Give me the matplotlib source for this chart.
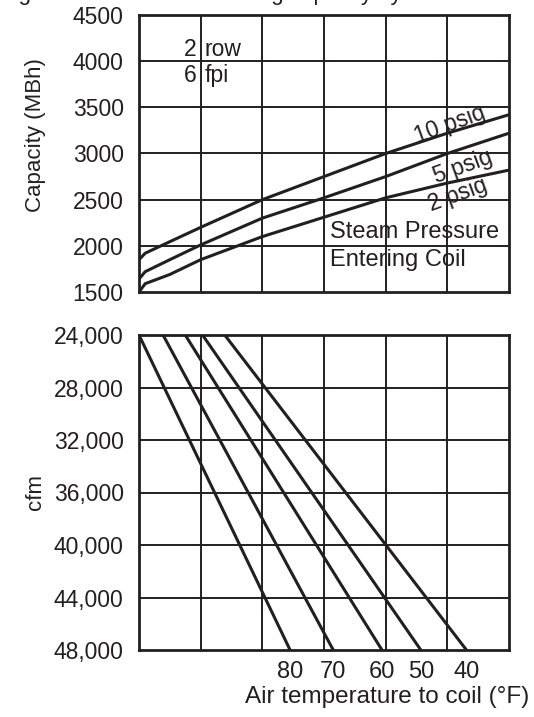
import matplotlib.pyplot as plt

plt.rcParams['font.family'] = ['Liberation Sans', 'DejaVu Sans']

INK = "#231f20"

# top chart: capacity (MBh) read at grid columns
grid_x = [0, 0.1, 0.5, 1, 2, 3, 4, 5, 6]
cap_10psig = [1850, 1920, 2045, 2200, 2500, 2750, 3000, 3220, 3420]
cap_5psig = [1640, 1720, 1850, 2010, 2300, 2520, 2750, 3000, 3220]
cap_2psig = [1500, 1590, 1690, 1850, 2100, 2310, 2520, 2680, 2820]
cap_ticks = [1500, 2000, 2500, 3000, 3500, 4000, 4500]

# bottom chart: air temperature lines, grid column at 24,000 and 48,000 cfm
cfm_ends = [24000, 48000]
temps = ["80", "70", "60", "50", "40"]
temp_top_x = [0.0, 0.39, 0.75, 1.03, 1.39]
temp_bot_x = [2.45, 3.15, 3.94, 4.57, 5.31]
cfm_ticks = [24000, 28000, 32000, 36000, 40000, 44000, 48000]
cfm_labels = ["24,000", "28,000", "32,000", "36,000", "40,000", "44,000", "48,000"]

fig = plt.figure(figsize=(5.34, 7.17), dpi=100)
ax1 = fig.add_axes([139 / 534, 1 - 292 / 717, 370 / 534, 277 / 717])
ax2 = fig.add_axes([139 / 534, 1 - 650 / 717, 370 / 534, 315 / 717])

# title line sits mostly above the page, only descenders show
fig.text(0.0, 1.0, "Figure 1.  Steam coil heating capacity by", fontsize=16,
         color=INK, va="baseline", ha="left")

for ax in (ax1, ax2):
    ax.set_xlim(0, 6)
    ax.set_xticks(range(7))
    for s in ax.spines.values():
        s.set_linewidth(2.0)
        s.set_color(INK)
    ax.tick_params(length=0, labelsize=16.5, colors=INK, pad=11)
    for gx in range(1, 6):
        ax.axvline(gx, color=INK, lw=1.4, zorder=1)

# top chart
ax1.set_ylim(1500, 4500)
ax1.set_yticks(cap_ticks)
ax1.set_yticklabels([str(v) for v in cap_ticks])
ax1.set_xticklabels([])
for v in cap_ticks[1:-1]:
    ax1.axhline(v, color=INK, lw=1.4, zorder=1)
for ys in (cap_10psig, cap_5psig, cap_2psig):
    ax1.plot(grid_x, ys, color=INK, lw=2.2, zorder=3, solid_capstyle="butt")
ax1.set_ylabel("Capacity (MBh)", fontsize=16, color=INK)
ax1.yaxis.set_label_coords(-0.25, 0.567)

ax1.text(0.94, 4121, "2", fontsize=16.5, color=INK, ha="right", va="center")
ax1.text(1.06, 4121, "row", fontsize=16.5, color=INK, ha="left", va="center")
ax1.text(0.94, 3850, "6", fontsize=16.5, color=INK, ha="right", va="center")
ax1.text(1.06, 3850, "fpi", fontsize=16.5, color=INK, ha="left", va="center")
ax1.text(5.04, 3309, "10 psig", fontsize=16.5, color=INK, ha="center", va="center",
         rotation=20, rotation_mode="anchor")
ax1.text(5.25, 2854, "5 psig", fontsize=16.5, color=INK, ha="center", va="center",
         rotation=20, rotation_mode="anchor")
ax1.text(5.17, 2551, "2 psig", fontsize=16.5, color=INK, ha="center", va="center",
         rotation=20, rotation_mode="anchor")
ax1.text(3.1, 2150, "Steam Pressure", fontsize=17, color=INK, ha="left", va="center")
ax1.text(3.1, 1847, "Entering Coil", fontsize=17, color=INK, ha="left", va="center")

# bottom chart
ax2.set_ylim(48000, 24000)
ax2.set_yticks(cfm_ticks)
ax2.set_yticklabels(cfm_labels)
for v in cfm_ticks[1:-1]:
    ax2.axhline(v, color=INK, lw=1.4, zorder=1)
for x0, x1 in zip(temp_top_x, temp_bot_x):
    ax2.plot([x0, x1], cfm_ends, color=INK, lw=2.2, zorder=3)
ax2.set_xticks(temp_bot_x)
ax2.set_xticklabels(temps)
ax2.tick_params(axis="x", pad=8, labelsize=17)
ax2.set_ylabel("cfm", fontsize=16, color=INK)
ax2.yaxis.set_label_coords(-0.25, 0.5)
ax2.set_xlabel("Air temperature to coil (°F)", fontsize=17.5, color=INK)
ax2.xaxis.label.set_ha("right")
ax2.xaxis.label.set_va("center")
ax2.xaxis.set_label_coords(1.055, -0.149)

fig.savefig("out.png", dpi=100)
